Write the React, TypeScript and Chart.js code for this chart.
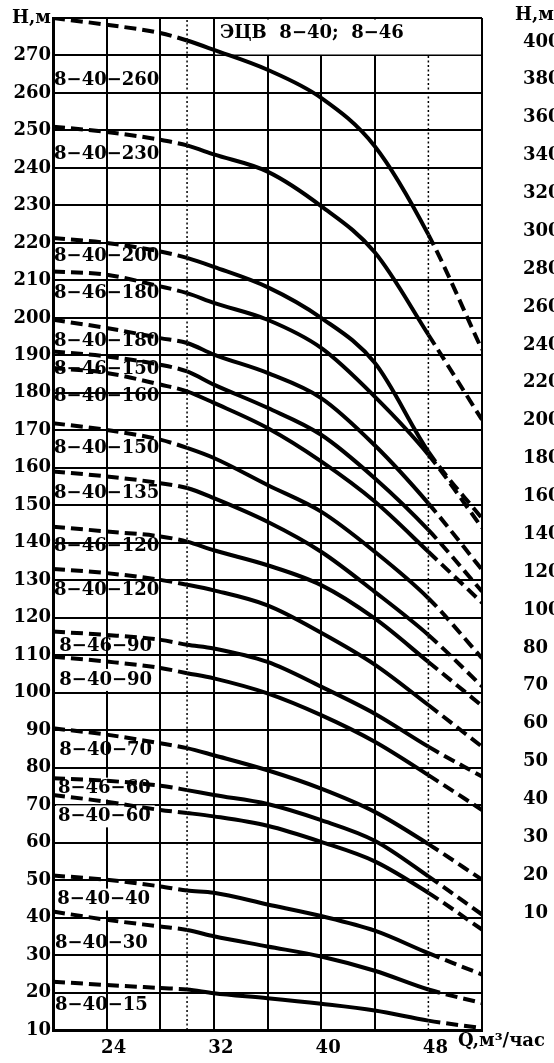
import React, { useEffect, useRef } from "react";
import { Chart, registerables } from "chart.js";

Chart.register(...registerables);

// Flow rate points, m³/h
const Q_POINTS = [20, 24, 28, 30, 32, 36, 40, 44, 48, 52];

// Head H, m at each Q point
const H_8_40_260 = [280, 278.2, 276, 274, 271.5, 266.2, 258.7, 245.8, 222.2, 191.5];
const H_8_40_230 = [251, 249.6, 247.5, 246, 243.6, 239, 229.8, 217.5, 195.5, 172.8];
const H_8_40_200 = [221.3, 220, 217.7, 216, 213.6, 208.2, 200, 188, 164.3, 146.5];
const H_8_46_180 = [212.4, 211.5, 208.4, 206.6, 204, 199.5, 192, 179, 163.5, 144];
const H_8_40_180 = [199.5, 197.3, 194.6, 193.3, 190.2, 185.3, 178.6, 166, 150.5, 132.8];
const H_8_46_150 = [191, 189.7, 187.5, 185.7, 182.2, 176, 168.8, 157.2, 143.4, 127];
const H_8_40_160 = [186.6, 185.3, 182.2, 180.4, 177.3, 170.6, 161.7, 151, 137.6, 124];
const H_8_40_150 = [171.9, 170.1, 167.5, 165.3, 162.6, 155.4, 148.3, 137.6, 125.2, 109.2];
const H_8_40_135 = [159, 157.7, 155.9, 154.6, 151.9, 145.6, 137.6, 126.9, 115.4, 101.7];
const H_8_46_120 = [144.3, 143, 141.7, 140.3, 138, 134, 128.7, 119.8, 108.2, 96.5];
const H_8_40_120 = [133, 131.9, 130.1, 128.8, 127.3, 123.3, 116, 107.5, 96.7, 85.6];
const H_8_46_90 = [116.3, 115.4, 114.1, 112.8, 111.8, 108.2, 101.6, 94.4, 85.6, 77.6];
const H_8_40_90 = [109.6, 108.3, 106.6, 105.2, 103.8, 99.8, 94, 86.9, 78, 68.7];
const H_8_40_70 = [90.5, 88.8, 86.5, 85.2, 83.3, 79.3, 74.4, 68.2, 59.6, 50.1];
const H_8_46_60 = [77.2, 76.5, 75.2, 74, 72.7, 70.3, 66, 60.5, 51, 40.8];
const H_8_40_60 = [72.7, 70.9, 68.7, 67.9, 67, 64.5, 60.2, 55, 46.6, 36.8];
const H_8_40_40 = [51.2, 50.1, 48.3, 47.2, 46.6, 43.5, 40.4, 36.5, 30.5, 24.8];
const H_8_40_30 = [41.6, 39.4, 37.6, 36.7, 35, 32.3, 29.6, 25.8, 20.8, 17.2];
const H_8_40_15 = [22.9, 22, 21.2, 20.8, 19.8, 18.5, 17, 15.2, 12.5, 10.5];

const SERIES = [
  H_8_40_260, H_8_40_230, H_8_40_200, H_8_46_180, H_8_40_180, H_8_46_150,
  H_8_40_160, H_8_40_150, H_8_40_135, H_8_46_120, H_8_40_120, H_8_46_90,
  H_8_40_90, H_8_40_70, H_8_46_60, H_8_40_60, H_8_40_40, H_8_40_30, H_8_40_15,
];

const CURVE_NAMES = [
  "8−40−260", "8−40−230", "8−40−200", "8−46−180", "8−40−180", "8−46−150",
  "8−40−160", "8−40−150", "8−40−135", "8−46−120", "8−40−120", "8−46−90",
  "8−40−90", "8−40−70", "8−46−60", "8−40−60", "8−40−40", "8−40−30", "8−40−15",
];

// Label anchors (data coordinates: left edge Q, centre H)
const LABEL_H = [263.5, 243.5, 216.4, 206.6, 193.7, 186.2, 179, 165.3, 153.3, 139, 127.4, 112.3, 103.4, 84.7, 74.4, 67, 44.8, 33.2, 16.7];
const LABEL_Q = [20.08, 20.08, 20.08, 20.08, 20.08, 20.08, 20.08, 20.08, 20.08, 20.08, 20.08, 20.47, 20.47, 20.47, 20.37, 20.37, 20.32, 20.15, 20.15];
const LABEL_BOXED = [false, false, false, false, false, false, false, false, false, false, false, false, true, false, true, true, true, false, false];

// Working range (dotted verticals)
const WORK_RANGE = [30, 48];

// X tick labels shown
const X_TICK_LABELS = [24, 32, 40, 48];

// Right-hand scale labels (top to bottom)
const RIGHT_TICKS = ["400", "380", "360", "340", "320", "300", "280", "260", "240", "220", "200", "180", "160", "140", "120", "100", "80", "70", "60", "50", "40", "30", "20", "10"];

const TITLE = "ЭЦВ  8−40;  8−46";
const TITLE_BOX_Q = [32, 52];
const TITLE_BOX_H = [270, 280];
const TITLE_POS = { q: 32.45, h: 276 };

const AXIS_Y_TITLE = "Н,м";
const AXIS_X_TITLE = "Q,м³/час";

const FONT_FAMILY = '"DejaVu Serif", serif';
const FONT_SIZE = 18;
const FONT_WEIGHT = "bold";

const overlayPlugin = {
  id: "overlay",
  beforeDatasetsDraw(chart: any) {
    const { ctx } = chart;
    const xs = chart.scales.x;
    const ys = chart.scales.y;
    ctx.save();
    // title box
    const bx0 = xs.getPixelForValue(TITLE_BOX_Q[0]) + 1.5;
    const bx1 = xs.getPixelForValue(TITLE_BOX_Q[1]) - 1;
    const by0 = ys.getPixelForValue(TITLE_BOX_H[1]) + 1.5;
    const by1 = ys.getPixelForValue(TITLE_BOX_H[0]) - 1;
    ctx.fillStyle = "#fff";
    ctx.fillRect(bx0, by0, bx1 - bx0, by1 - by0);
    ctx.fillStyle = "#000";
    ctx.font = `${FONT_WEIGHT} ${FONT_SIZE}px ${FONT_FAMILY}`;
    ctx.textBaseline = "middle";
    ctx.textAlign = "left";
    ctx.fillText(TITLE, xs.getPixelForValue(TITLE_POS.q), ys.getPixelForValue(TITLE_POS.h));

    CURVE_NAMES.forEach((name, i) => {
      const x = xs.getPixelForValue(LABEL_Q[i]);
      const y = ys.getPixelForValue(LABEL_H[i]);
      if (LABEL_BOXED[i]) {
        const w = ctx.measureText(name).width;
        ctx.fillStyle = "#fff";
        ctx.fillRect(x - 2, y - 11, w + 6, 22);
        ctx.fillStyle = "#000";
      }
      ctx.fillText(name, x, y);
    });
    ctx.restore();
  },
  afterDraw(chart: any) {
    const { ctx, chartArea } = chart;
    const xs = chart.scales.x;
    ctx.save();
    ctx.fillStyle = "#000";
    ctx.font = `${FONT_WEIGHT} ${FONT_SIZE}px ${FONT_FAMILY}`;
    ctx.textBaseline = "middle";
    ctx.textAlign = "left";
    ctx.fillText(AXIS_X_TITLE, xs.right - 24, xs.top + 11);
    ctx.fillText(AXIS_Y_TITLE, chartArea.right + 33, chartArea.top - 3);
    ctx.restore();
  },
};

export default function App() {
  const canvasRef = useRef<HTMLCanvasElement | null>(null);

  useEffect(() => {
    const canvas = canvasRef.current;
    if (!canvas) return;

    const dashed = [12, 6];
    const curveDatasets = SERIES.map((vals, si) => ({
      label: CURVE_NAMES[si],
      data: Q_POINTS.map((q, i) => ({ x: q, y: vals[i] })),
      borderColor: "#000",
      borderWidth: 4,
      pointRadius: 0,
      fill: false,
      cubicInterpolationMode: "monotone" as const,
      yAxisID: "y",
      segment: {
        borderDash: (ctx: any) =>
          ctx.p1.parsed.x <= WORK_RANGE[0] || ctx.p0.parsed.x >= WORK_RANGE[1] ? dashed : undefined,
      },
    }));

    const dottedDatasets = [
      {
        label: "q-min",
        data: [
          { x: WORK_RANGE[0], y: 10 },
          { x: WORK_RANGE[0], y: 280 },
        ],
        borderColor: "#000",
        borderWidth: 1.5,
        borderDash: [2, 2.5],
        pointRadius: 0,
        yAxisID: "y",
      },
      {
        label: "q-max",
        data: [
          { x: WORK_RANGE[1], y: 10 },
          { x: WORK_RANGE[1], y: 270 },
        ],
        borderColor: "#000",
        borderWidth: 1.5,
        borderDash: [2, 2.5],
        pointRadius: 0,
        yAxisID: "y",
      },
    ];

    const tickFont = { family: FONT_FAMILY, size: FONT_SIZE, weight: FONT_WEIGHT };

    const chart = new Chart(canvas, {
      type: "line",
      data: { datasets: [...dottedDatasets, ...curveDatasets] as any },
      options: {
        animation: false,
        responsive: false,
        maintainAspectRatio: false,
        devicePixelRatio: 1,
        layout: { padding: { top: 18, left: 0, right: 0, bottom: 0 } },
        plugins: { legend: { display: false }, tooltip: { enabled: false } },
        scales: {
          x: {
            type: "linear",
            min: 20,
            max: 52,
            ticks: {
              stepSize: 4,
              autoSkip: false,
              maxRotation: 0,
              padding: 8,
              labelOffset: 7,
              color: "#000",
              font: tickFont,
              callback: (v: any) => (X_TICK_LABELS.includes(Number(v)) ? String(v) : ""),
            },
            grid: {
              drawTicks: false,
              lineWidth: 2,
              color: (ctx: any) =>
                ctx.tick && ctx.tick.value === WORK_RANGE[1] ? "rgba(0,0,0,0)" : "#000",
            },
            border: { display: true, color: "#000", width: 3 },
            afterFit: (scale: any) => {
              scale.height = 33;
              scale.paddingLeft = 0;
              scale.paddingRight = 0;
            },
          },
          y: {
            type: "linear",
            position: "left",
            min: 10,
            max: 280,
            ticks: {
              stepSize: 10,
              autoSkip: false,
              padding: 2,
              color: "#000",
              font: tickFont,
              callback: (v: any) => (Number(v) === 280 ? AXIS_Y_TITLE : String(v)),
            },
            grid: { drawTicks: false, lineWidth: 2, color: "#000" },
            border: { display: true, color: "#000", width: 3 },
            afterFit: (scale: any) => {
              scale.width = 53;
              scale.paddingTop = 0;
              scale.paddingBottom = 0;
            },
          },
          y2: {
            type: "linear",
            position: "right",
            min: -3.09,
            max: 23.63,
            grid: { display: false, drawTicks: false },
            border: { display: false },
            ticks: {
              autoSkip: false,
              padding: 41,
              color: "#000",
              font: tickFont,
              callback: (v: any) => RIGHT_TICKS[RIGHT_TICKS.length - 1 - Number(v)] ?? "",
            },
            afterBuildTicks: (scale: any) => {
              scale.ticks = RIGHT_TICKS.map((_, i) => ({ value: i }));
            },
            afterFit: (scale: any) => {
              scale.width = 118;
              scale.paddingTop = 0;
              scale.paddingBottom = 0;
            },
          },
        },
      } as any,
      plugins: [overlayPlugin],
    });

    return () => chart.destroy();
  }, []);

  return (
    <div
      style={{
        position: "fixed",
        left: 0,
        top: 0,
        width: 554,
        height: 1063,
        overflow: "hidden",
        background: "#fff",
      }}
    >
      <canvas ref={canvasRef} width={600} height={1063} style={{ display: "block", width: 600, height: 1063 }} />
    </div>
  );
}
